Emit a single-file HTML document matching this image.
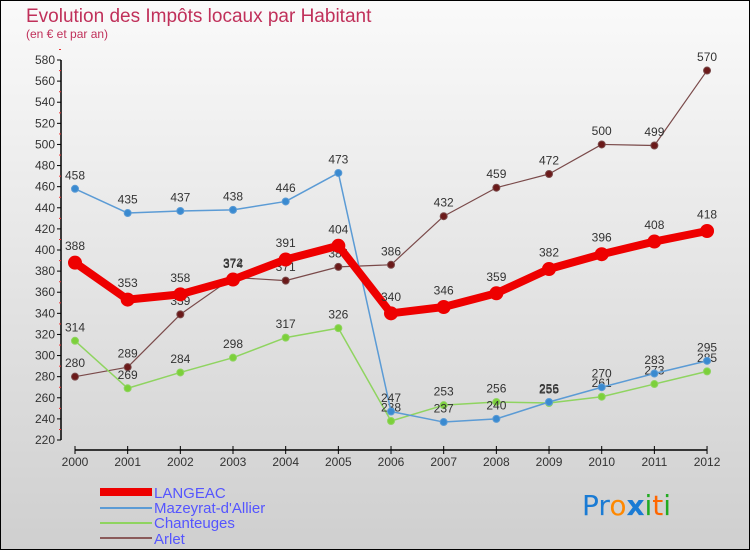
<!DOCTYPE html>
<html><head><meta charset="utf-8"><style>
html,body{margin:0;padding:0}
body{width:750px;height:550px;overflow:hidden;font-family:"Liberation Sans",sans-serif}
</style></head><body>
<svg width="750" height="550" xmlns="http://www.w3.org/2000/svg">
<defs><linearGradient id="bg" x1="0" y1="0" x2="0" y2="1"><stop offset="0" stop-color="#fafafa"/><stop offset="1" stop-color="#cfcfcf"/></linearGradient></defs>
<rect x="0.5" y="0.5" width="749" height="549" fill="url(#bg)" stroke="#000"/>
<text x="26" y="22" font-size="19" fill="#c0305a">Evolution des Impôts locaux par Habitant</text>
<text x="26" y="38" font-size="12" fill="#c0305a">(en € et par an)</text>
<g id="axes"></g>
<g id="series"></g>
<g id="legend" font-size="15" fill="#5555ff">
<rect x="100" y="488" width="52" height="8" fill="#ee0000"/>
<text x="154" y="498">LANGEAC</text>
<rect x="100" y="507" width="52" height="2" fill="#5b9bd5"/>
<text x="154" y="513">Mazeyrat-d'Allier</text>
<rect x="100" y="522" width="52" height="2" fill="#8fd460"/>
<text x="154" y="528">Chanteuges</text>
<rect x="100" y="537" width="52" height="2" fill="#8a5a5a"/>
<text x="154" y="544">Arlet</text>
</g>
<g font-size="28" font-family="'DejaVu Sans',sans-serif">
<text x="582" y="515"><tspan fill="#1a7bd4">P</tspan><tspan fill="#1a7bd4">r</tspan><tspan fill="#ff8800">o</tspan><tspan fill="#1a7bd4" font-weight="bold">x</tspan><tspan fill="#22aa22">i</tspan><tspan fill="#ff6600">t</tspan><tspan fill="#22aa22">i</tspan></text>
</g>
</svg>
<script>
const years=[2000,2001,2002,2003,2004,2005,2006,2007,2008,2009,2010,2011,2012];
const langeac=[388,353,358,372,391,404,340,346,359,382,396,408,418];
const mazeyrat=[458,435,437,438,446,473,247,237,240,256,270,283,295];
const chanteuges=[314,269,284,298,317,326,238,253,256,255,261,273,285];
const arlet=[280,289,339,374,371,384,386,432,459,472,500,499,570];
const yTicks=[220,240,260,280,300,320,340,360,380,400,420,440,460,480,500,520,540,560,580];
const NS="http://www.w3.org/2000/svg";
const X=i=>75+i*52.67;
const Y=v=>440-(v-220)*(380/360);
function mk(tag,attrs,parent){const e=document.createElementNS(NS,tag);for(const k in attrs)e.setAttribute(k,attrs[k]);parent.appendChild(e);return e;}
const ax=document.getElementById('axes');
let a=mk('line',{x1:61,y1:Y(580),x2:61,y2:Y(220),stroke:'#000','stroke-width':1.5},ax);


yTicks.forEach(v=>{
 let t=mk('line',{x1:57,y1:Y(v),x2:61,y2:Y(v),stroke:'#000'},ax);
 
 
 let m=mk('line',{x1:59,y1:Y(v)-10.5,x2:61,y2:Y(v)-10.5,stroke:'#e33'},ax);
 
 
 let l=mk('text',{x:55,y:Y(v)+4,'text-anchor':'end','font-size':12,fill:'#333'},ax);
 l.textContent=v;
 
 
});
let xa=mk('line',{x1:X(0),y1:450,x2:X(12),y2:450,stroke:'#000','stroke-width':1.5},ax);


years.forEach((y,i)=>{
 let t=mk('line',{x1:X(i),y1:446,x2:X(i),y2:454,stroke:'#000'},ax);
 
 
 let l=mk('text',{x:X(i),y:466,'text-anchor':'middle','font-size':12,fill:'#333'},ax);
 l.textContent=y;
 
 
});
const sg=document.getElementById('series');
function series(name,data,color,w,r,ptColor){
 const g=mk('g',{},sg);
 
 
 const p=mk('polyline',{points:data.map((v,i)=>X(i)+','+Y(v)).join(' '),fill:'none',stroke:color,'stroke-width':w,'stroke-linejoin':'round'},g);
 
 
 data.forEach((v,i)=>{
  const c=mk('circle',{cx:X(i),cy:Y(v),r:r,fill:ptColor,stroke:color,'stroke-width':1},g);
  
  
  const t=mk('text',{x:X(i),y:Y(v)-(r+6),'text-anchor':'middle','font-size':12,fill:'#333'},g);
  t.textContent=v;
  
  
 });
}
series('arlet',arlet,'#7a4a4a',1.2,3.5,'#6b1a1a');
series('chanteuges',chanteuges,'#8fd460',1.5,3.5,'#7cd03a');
series('mazeyrat',mazeyrat,'#5b9bd5',1.5,3.5,'#3a8ad0');
series('langeac',langeac,'#ee0000',8,6.5,'#ee0000');
</script>
</body></html>
